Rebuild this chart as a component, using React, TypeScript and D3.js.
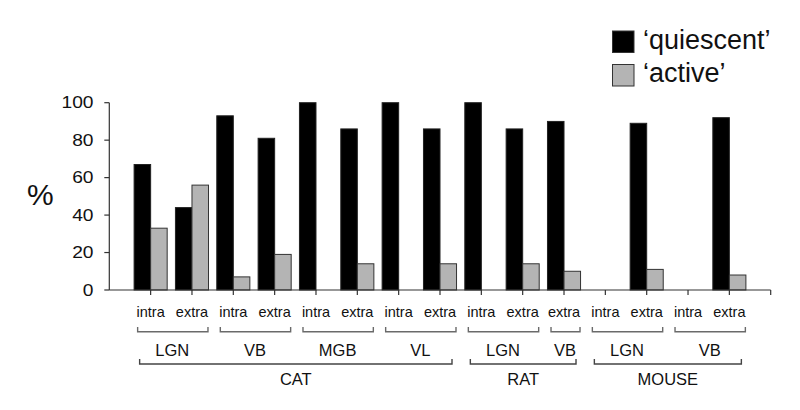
import React from "react";
import * as d3 from "d3";

const categories = ["intra", "extra", "intra", "extra", "intra", "extra", "intra", "extra", "intra", "extra", "extra", "intra", "extra", "intra", "extra"];
const quiescent: (number | null)[] = [67, 44, 93, 81, 100, 86, 100, 86, 100, 86, 90, null, 89, null, 92];
const active: (number | null)[] = [33, 56, 7, 19, 0, 14, 0, 14, 0, 14, 10, null, 11, null, 8];

const regionLabels = ["LGN", "VB", "MGB", "VL", "LGN", "VB", "LGN", "VB"];
const regionStart = [0, 2, 4, 6, 8, 10, 11, 13];
const regionEnd = [1, 3, 5, 7, 9, 10, 12, 14];

const speciesLabels = ["CAT", "RAT", "MOUSE"];
const speciesStart = [0, 8, 11];
const speciesEnd = [7, 10, 14];

const yTicks = [0, 20, 40, 60, 80, 100];
const seriesNames = ["\u2018quiescent\u2019", "\u2018active\u2019"];
const seriesColors = ["#000000", "#b4b4b4"];

const W = 800;
const H = 410;
const FONT = "'Liberation Sans', Arial, Helvetica, sans-serif";

export default function App() {
  const x = d3.scaleLinear().domain([0, categories.length + 1]).range([109.3, 770.7]);
  const y = d3.scaleLinear().domain([0, 100]).range([290, 102.7]);
  const step = x(1) - x(0);
  const bw = step * 0.4;
  const cx = (i: number) => x(i + 1);

  const brStroke = "#6a6a6a";

  return (
    <svg width={W} height={H} style={{ position: "absolute", left: 0, top: 0, background: "#fff" }} fontFamily={FONT}>
      {/* bars */}
      {categories.map((c, i) => (
        <g key={i}>
          {quiescent[i] !== null && (quiescent[i] as number) > 0 && (
            <rect x={cx(i) - bw} y={y(quiescent[i] as number)} width={bw} height={y(0) - y(quiescent[i] as number)} fill={seriesColors[0]} stroke="#222" strokeWidth={1} />
          )}
          {active[i] !== null && (active[i] as number) > 0 && (
            <rect x={cx(i)} y={y(active[i] as number)} width={bw} height={y(0) - y(active[i] as number)} fill={seriesColors[1]} stroke="#333" strokeWidth={1} />
          )}
        </g>
      ))}

      {/* y axis */}
      <line x1={x(0)} x2={x(0)} y1={y(100)} y2={y(0)} stroke="#333" strokeWidth={1.2} />
      {yTicks.map((t) => (
        <g key={t}>
          <line x1={x(0) - 5} x2={x(0)} y1={y(t)} y2={y(t)} stroke="#333" strokeWidth={1.2} />
          <text transform={`translate(93.5,${y(t)}) scale(1.2,1)`} dy="0.36em" textAnchor="end" fontSize={16} fill="#111">{t}</text>
        </g>
      ))}
      <text x={27} y={205} fontSize={30} fill="#111">%</text>

      {/* x axis */}
      <line x1={x(0)} x2={x(categories.length + 1)} y1={y(0)} y2={y(0)} stroke="#333" strokeWidth={1.2} />
      {d3.range(1, categories.length + 2).map((k) => (
        <line key={k} x1={x(k)} x2={x(k)} y1={y(0)} y2={y(0) + 5} stroke="#333" strokeWidth={1.2} />
      ))}
      {categories.map((c, i) => (
        <text key={i} x={cx(i)} y={317.3} textAnchor="middle" fontSize={14.5} fill="#111">{c}</text>
      ))}

      {/* region brackets */}
      {regionLabels.map((r, k) => {
        const l = cx(regionStart[k]) - 13;
        const rr = cx(regionEnd[k]) + 16;
        const mid = (cx(regionStart[k]) + cx(regionEnd[k])) / 2 + 1;
        return (
          <g key={k}>
            <path d={`M${l},327 V331.7 H${rr} V327`} fill="none" stroke={brStroke} strokeWidth={1.4} />
            <text x={mid} y={355.7} textAnchor="middle" fontSize={16.5} fill="#111">{r}</text>
          </g>
        );
      })}

      {/* species brackets */}
      {speciesLabels.map((s, k) => {
        const l = cx(speciesStart[k]) - 11;
        const rr = cx(speciesEnd[k]) + 12;
        return (
          <g key={k}>
            <path d={`M${l},359 V364 H${rr} V359`} fill="none" stroke="#444" strokeWidth={1.4} />
            <text x={(l + rr) / 2} y={385} textAnchor="middle" fontSize={16.5} fill="#111">{s}</text>
          </g>
        );
      })}

      {/* legend */}
      {seriesNames.map((n, k) => (
        <g key={k}>
          <rect x={612.5} y={31 + k * 33.5} width={21.5} height={21.5} fill={seriesColors[k]} stroke="#333" strokeWidth={1} />
          <text x={643} y={48.5 + k * 33.5} fontSize={27} fill="#111">{n}</text>
        </g>
      ))}
    </svg>
  );
}
